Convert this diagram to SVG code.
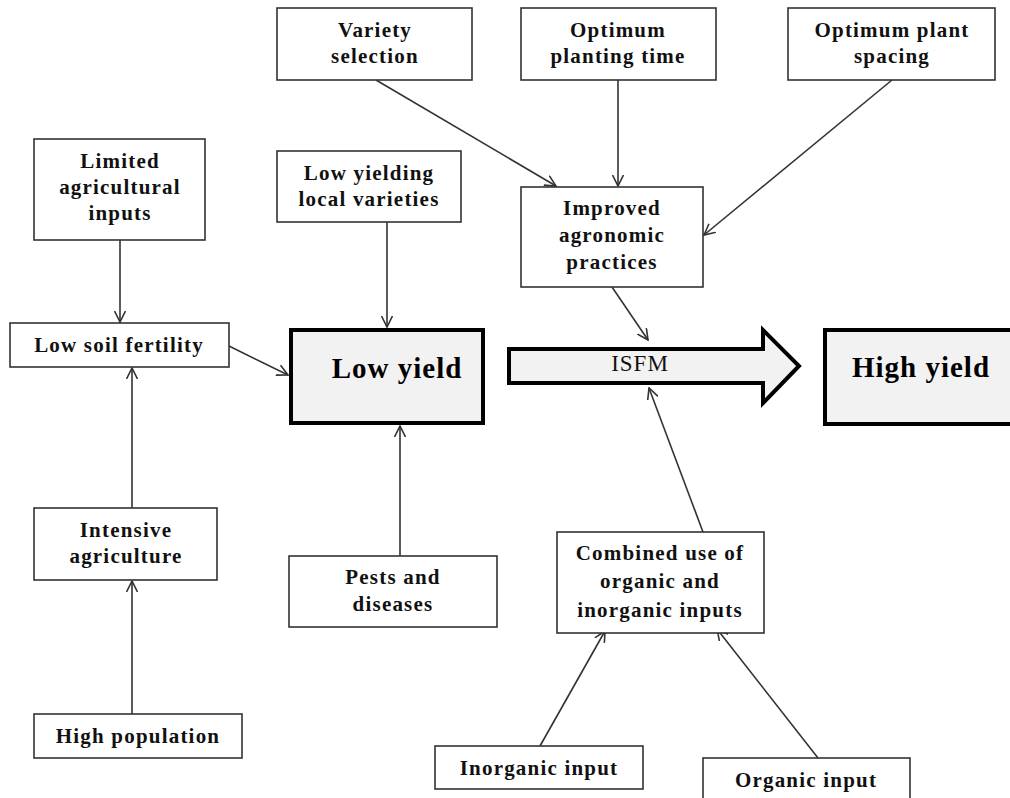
<svg xmlns="http://www.w3.org/2000/svg" width="1010" height="798" viewBox="0 0 1010 798">
<defs>
<style>
.box{fill:#fff;stroke:#333;stroke-width:1.6}
.thick{fill:#f2f2f2;stroke:#000;stroke-width:4}
.t{font-family:"Liberation Serif","Times New Roman",serif;font-weight:bold;font-size:21px;letter-spacing:1.2px;fill:#111;text-anchor:middle}
.big{font-family:"Liberation Serif","Times New Roman",serif;font-weight:bold;font-size:29px;letter-spacing:1px;fill:#000;text-anchor:middle}
.isfm{font-family:"Liberation Serif","Times New Roman",serif;font-size:23px;letter-spacing:1px;fill:#111;text-anchor:middle}
.c{fill:none;stroke:#333;stroke-width:1.6;marker-end:url(#ah)}
</style>
<marker id="ah" viewBox="0 0 12 12" refX="11" refY="6" markerWidth="12" markerHeight="12" markerUnits="userSpaceOnUse" orient="auto">
<path d="M0,0.5 L11,6 L0,11.5" fill="none" stroke="#333" stroke-width="1.6"/>
</marker>
</defs>
<rect width="1010" height="798" fill="#fff"/>

<g id="connectors">
<line class="c" x1="120" y1="240" x2="120" y2="322"/>
<line class="c" x1="229" y1="346" x2="288" y2="375"/>
<line class="c" x1="132" y1="508" x2="132" y2="368"/>
<line class="c" x1="132" y1="714" x2="132" y2="581"/>
<line class="c" x1="387" y1="222" x2="387" y2="327"/>
<line class="c" x1="400" y1="556" x2="400" y2="426"/>
<line class="c" x1="376" y1="80" x2="556" y2="186"/>
<line class="c" x1="618" y1="80" x2="618" y2="186"/>
<line class="c" x1="892" y1="80" x2="704" y2="235"/>
<line class="c" x1="612" y1="287" x2="648" y2="340"/>
<line class="c" x1="703" y1="532" x2="649" y2="388"/>
<line class="c" x1="540" y1="746" x2="605" y2="631"/>
<line class="c" x1="818" y1="758" x2="717" y2="629"/>
</g>

<g id="limited-inputs">
<rect class="box" x="34" y="139" width="171" height="101"/>
<text class="t" x="120" y="168">Limited</text>
<text class="t" x="120" y="194">agricultural</text>
<text class="t" x="120" y="220">inputs</text>
</g>

<g id="low-soil-fertility">
<rect class="box" x="10" y="323" width="219" height="44"/>
<text class="t" x="119" y="352">Low soil fertility</text>
</g>

<g id="intensive-agriculture">
<rect class="box" x="34" y="508" width="183" height="72"/>
<text class="t" x="126" y="537">Intensive</text>
<text class="t" x="126" y="563">agriculture</text>
</g>

<g id="high-population">
<rect class="box" x="34" y="714" width="208" height="44"/>
<text class="t" x="138" y="743">High population</text>
</g>

<g id="variety-selection">
<rect class="box" x="277" y="8" width="195" height="72"/>
<text class="t" x="375" y="37">Variety</text>
<text class="t" x="375" y="63">selection</text>
</g>

<g id="optimum-planting-time">
<rect class="box" x="521" y="8" width="195" height="72"/>
<text class="t" x="618" y="37">Optimum</text>
<text class="t" x="618" y="63">planting time</text>
</g>

<g id="optimum-plant-spacing">
<rect class="box" x="788" y="8" width="207" height="72"/>
<text class="t" x="892" y="37">Optimum plant</text>
<text class="t" x="892" y="63">spacing</text>
</g>

<g id="low-yielding-varieties">
<rect class="box" x="277" y="151" width="184" height="71"/>
<text class="t" x="369" y="180">Low yielding</text>
<text class="t" x="369" y="206">local varieties</text>
</g>

<g id="improved-agronomic-practices">
<rect class="box" x="521" y="187" width="182" height="100"/>
<text class="t" x="612" y="215">Improved</text>
<text class="t" x="612" y="242">agronomic</text>
<text class="t" x="612" y="269">practices</text>
</g>

<g id="low-yield">
<rect class="thick" x="291" y="330" width="192" height="93"/>
<text class="big" x="397" y="378">Low yield</text>
</g>

<g id="isfm">
<polygon class="thick" stroke-linejoin="miter" points="509,349 763,349 763,330 799,366 763,403 763,383 509,383"/>
<text class="isfm" x="640" y="371">ISFM</text>
</g>

<g id="high-yield">
<rect class="thick" x="825" y="330" width="200" height="94"/>
<text class="big" x="921" y="377">High yield</text>
</g>

<g id="pests-diseases">
<rect class="box" x="289" y="556" width="208" height="71"/>
<text class="t" x="393" y="584">Pests and</text>
<text class="t" x="393" y="611">diseases</text>
</g>

<g id="combined-use">
<rect class="box" x="557" y="532" width="207" height="101"/>
<text class="t" x="660" y="560">Combined use of</text>
<text class="t" x="660" y="588">organic and</text>
<text class="t" x="660" y="617">inorganic inputs</text>
</g>

<g id="inorganic-input">
<rect class="box" x="435" y="746" width="208" height="43"/>
<text class="t" x="539" y="775">Inorganic input</text>
</g>

<g id="organic-input">
<rect class="box" x="703" y="758" width="207" height="50"/>
<text class="t" x="806" y="787">Organic input</text>
</g>
</svg>
